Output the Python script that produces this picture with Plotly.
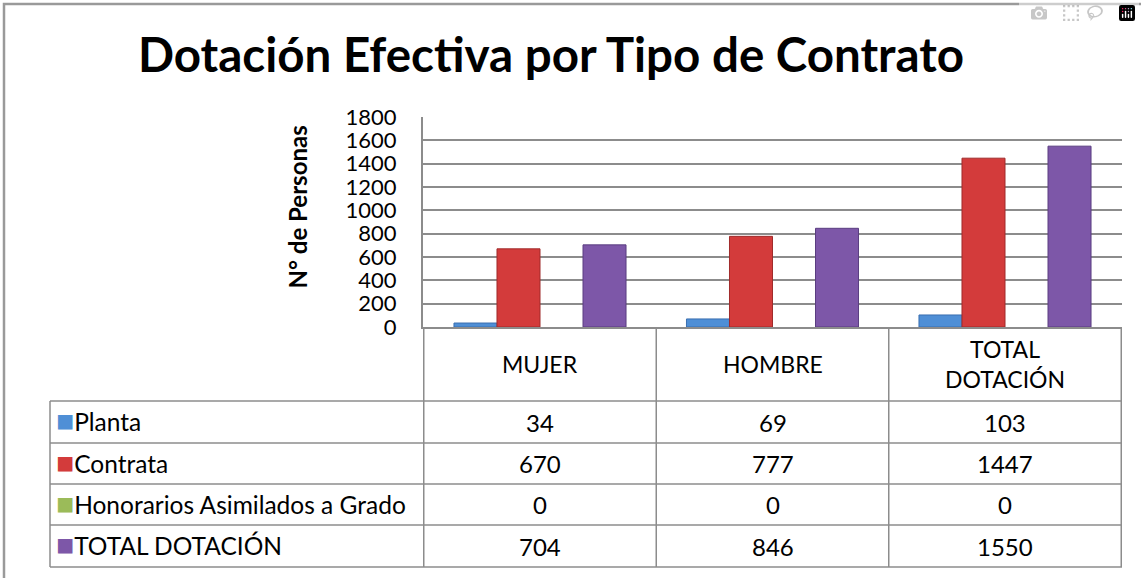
import plotly.graph_objects as go

categories = ["MUJER", "HOMBRE", "TOTAL DOTACIÓN"]
header_labels = ["MUJER", "HOMBRE", "TOTAL<br>DOTACIÓN"]
series_names = ["Planta", "Contrata", "Honorarios Asimilados a Grado", "TOTAL DOTACIÓN"]
planta = [34, 69, 103]
contrata = [670, 777, 1447]
honorarios = [0, 0, 0]
total_dotacion = [704, 846, 1550]
y_ticks = [0, 200, 400, 600, 800, 1000, 1200, 1400, 1600, 1800]

series_values = [planta, contrata, honorarios, total_dotacion]
colors = ["#4F8FD6", "#D33B3B", "#9BBB59", "#7D57A8"]
edges = ["#3A6FB0", "#A02B2B", "#76903F", "#5A3D80"]

W, H = 1141, 578
FONT = "Lato"
GRAY = "#8c8c8c"

# pixel grid of the data table under the plot
row_lines = [401, 443, 484, 525, 567]
table_left, plot_left, plot_right = 50, 423, 1122


def px_x(x):
    return x / W


def px_y(y):
    return 1 - y / H


fig = go.Figure()

for name, vals, col, edge in zip(series_names, series_values, colors, edges):
    fig.add_trace(
        go.Bar(
            x=categories,
            y=vals,
            name=name,
            marker=dict(color=col, line=dict(color=edge, width=1 if max(vals) > 0 else 0)),
            showlegend=False,
        )
    )

txt = dict(family=FONT, size=24, color="black")
annotations = []

# header row (category names)
for cat, lab in zip(categories, header_labels):
    annotations.append(dict(text=lab, x=cat, xref="x", y=px_y(364), yref="paper",
                            showarrow=False, font=dict(family=FONT, size=23, color="black"),
                            xanchor="center", yanchor="middle"))

# table body: legend key + values per category
for i, (name, vals) in enumerate(zip(series_names, series_values)):
    yc = px_y((row_lines[i] + row_lines[i + 1]) / 2)
    annotations.append(dict(
        text=f"<span style='color:{colors[i]};font-size:30px'>■</span>{name}",
        x=px_x(54), xref="paper", y=yc, yref="paper", yshift=3,
        showarrow=False, font=dict(family=FONT, size=24.5, color="black"),
        xanchor="left", yanchor="middle",
    ))
    for cat, v in zip(categories, vals):
        annotations.append(dict(text=str(v), x=cat, xref="x", y=yc, yref="paper",
                                showarrow=False, font=txt, xanchor="center", yanchor="middle"))

annotations.append(dict(
    text="<b>N° de Personas</b>",
    x=px_x(280), y=px_y(207), xref="paper", yref="paper",
    textangle=-90, showarrow=False,
    font=dict(family=FONT, size=24, color="black"),
))

line = dict(color=GRAY, width=1.5)
shapes = [
    # outer chart frame
    dict(type="rect", xref="paper", yref="paper", x0=px_x(4), x1=1.05, y0=-0.05, y1=px_y(4),
         line=dict(color="#9a9a9a", width=2.5)),
    dict(type="line", xref="paper", yref="paper", x0=px_x(table_left), x1=px_x(table_left),
         y0=px_y(row_lines[0]), y1=px_y(row_lines[-1]), line=line),
]
for yl in row_lines:
    shapes.append(dict(type="line", xref="paper", yref="paper", x0=px_x(table_left), x1=px_x(plot_right),
                       y0=px_y(yl), y1=px_y(yl), line=line))
for xpos in [-0.5, 0.5, 1.5, 2.5]:
    shapes.append(dict(type="line", xref="x", yref="paper", x0=xpos, x1=xpos,
                       y0=px_y(row_lines[-1]), y1=px_y(327), line=line))

fig.update_layout(
    width=W,
    height=H,
    margin=dict(l=0, r=0, t=0, b=0, autoexpand=False),
    paper_bgcolor="white",
    plot_bgcolor="white",
    barmode="group",
    bargap=0.26,
    bargroupgap=0,
    title=dict(
        text="<b>Dotación Efectiva por Tipo de Contrato</b>",
        x=px_x(551),
        xanchor="center",
        y=px_y(55),
        yanchor="middle",
        font=dict(family=FONT, size=47.5, color="black"),
    ),
    xaxis=dict(
        domain=[px_x(plot_left), px_x(plot_right)],
        type="category",
        showticklabels=False,
        showgrid=False,
        showline=True,
        linecolor=GRAY,
        linewidth=2,
        ticks="",
        automargin=False,
        fixedrange=True,
    ),
    yaxis=dict(
        domain=[px_y(327), px_y(117)],
        range=[0, 1800],
        tickvals=y_ticks,
        showgrid=True,
        gridcolor=GRAY,
        gridwidth=2,
        showline=True,
        linecolor=GRAY,
        linewidth=2,
        zeroline=False,
        ticks="",
        ticklabelstandoff=20,
        tickfont=dict(family=FONT, size=22, color="black"),
        automargin=False,
        fixedrange=True,
    ),
    annotations=annotations,
    shapes=shapes,
)

fig.write_html("out.html", post_script="document.body.style.margin='0px';")
